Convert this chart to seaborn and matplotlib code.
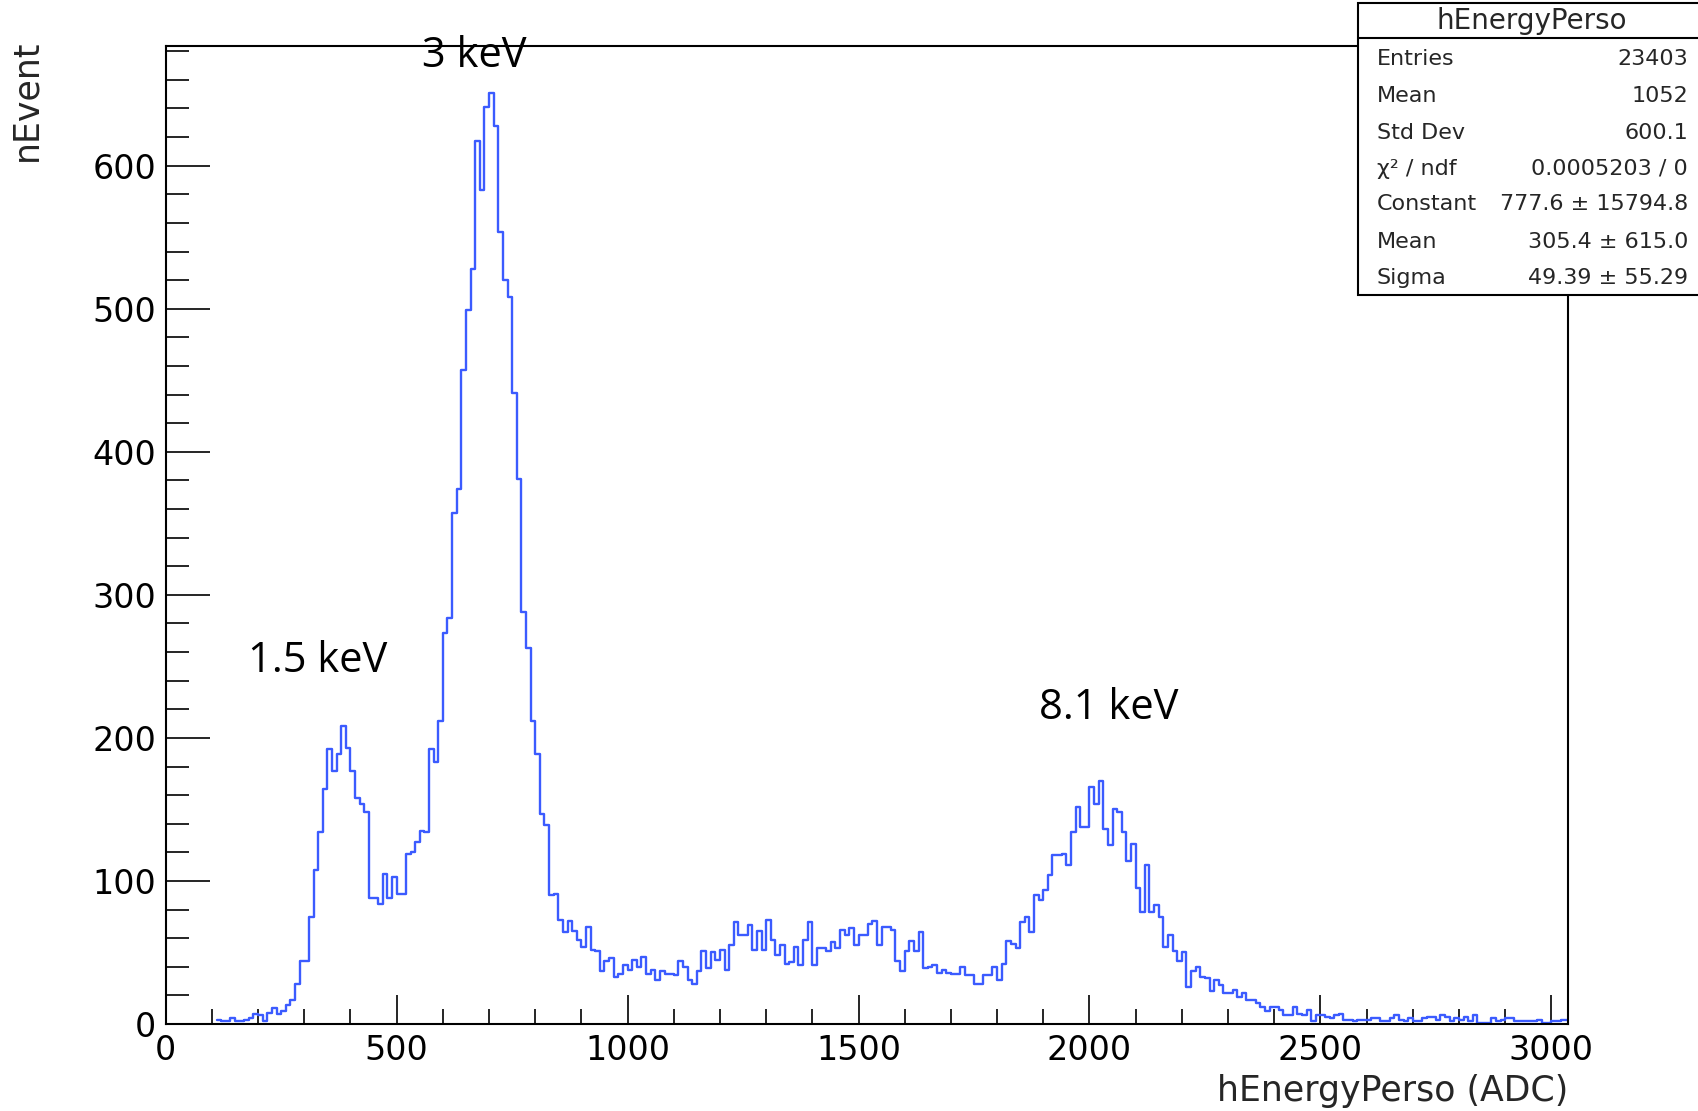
import numpy as np
import pandas as pd
import seaborn as sns
import matplotlib.pyplot as plt
from matplotlib.ticker import MultipleLocator
from matplotlib.patches import Rectangle
from matplotlib.lines import Line2D

# histogram: 10 ADC wide bins, first bin starts at 110
bin_width = 10
bin_first = 110
counts = [
    3, 2, 2, 4, 2, 2, 3, 4, 7, 6,                 # 110-200
    2, 8, 11, 7, 9, 13, 17, 28, 44, 44,           # 210-300
    75, 108, 134, 164, 192, 177, 189, 208, 193, 177,   # 310-400
    158, 154, 148, 88, 88, 84, 105, 88, 103, 91,  # 410-500
    91, 119, 120, 127, 135, 134, 192, 183, 212, 273,   # 510-600
    284, 357, 374, 457, 499, 528, 617, 583, 641, 651,  # 610-700
    628, 554, 520, 508, 441, 381, 288, 263, 212, 189,  # 710-800
    147, 139, 90, 91, 73, 64, 72, 65, 59, 54,     # 810-900
    68, 52, 51, 37, 44, 46, 33, 35, 41, 38,       # 910-1000
    45, 40, 47, 35, 38, 31, 37, 35, 35, 34,       # 1010-1100
    44, 40, 31, 28, 37, 51, 39, 50, 45, 52,       # 1110-1200
    38, 55, 71, 62, 62, 69, 52, 65, 52, 73,       # 1210-1300
    59, 48, 55, 42, 43, 54, 41, 59, 71, 41,       # 1310-1400
    53, 53, 51, 57, 53, 66, 62, 67, 55, 62,       # 1410-1500
    62, 70, 72, 55, 68, 68, 66, 44, 37, 51,       # 1510-1600
    58, 51, 64, 39, 40, 41, 36, 38, 36, 35,       # 1610-1700
    35, 40, 34, 34, 28, 28, 34, 34, 40, 31,       # 1710-1800
    42, 58, 56, 53, 71, 75, 64, 90, 87, 94,       # 1810-1900
    104, 118, 118, 119, 111, 134, 152, 138, 138, 166,  # 1910-2000
    154, 170, 136, 125, 150, 148, 134, 114, 126, 95,   # 2010-2100
    78, 111, 78, 83, 75, 54, 62, 51, 44, 50,      # 2110-2200
    26, 37, 40, 33, 32, 23, 31, 27, 22, 22,       # 2210-2300
    24, 19, 22, 17, 17, 15, 12, 9, 12, 12,        # 2310-2400
    10, 6, 6, 12, 7, 6, 10, 2, 6, 6,              # 2410-2500
    5, 4, 6, 7, 3, 3, 2, 3, 3, 3,                 # 2510-2600
    4, 4, 2, 2, 4, 6, 3, 2, 4, 2,                 # 2610-2700
    2, 4, 5, 5, 3, 6, 5, 2, 4, 3,                 # 2710-2800
    5, 2, 6, 1, 1, 1, 4, 2, 3, 4,                 # 2810-2900
    4, 2, 2, 2, 2, 2, 3, 1, 1, 2,                 # 2910-3000
    2, 3, 3,                                      # 3010-3030
]

stat_names = ["Entries", "Mean", "Std Dev", "χ² / ndf", "Constant", "Mean", "Sigma"]
stat_values = ["23403", "1052", "600.1", "0.0005203 / 0",
               "777.6 ± 15794.8", "305.4 ± 615.0", "49.39 ± 55.29"]

peak_labels = ["1.5 keV", "3 keV", "8.1 keV"]
peak_x = [330, 669, 2041]
peak_y = [246, 669, 213]

bin_last = bin_first + bin_width * len(counts)
centers = np.arange(bin_first, bin_last, bin_width) + bin_width / 2
df = pd.DataFrame({"adc": centers, "n": counts})

sns.set_theme(style="white")
plt.rcParams["font.family"] = ["DejaVu Sans"]

fig = plt.figure(figsize=(16.98, 11.11), dpi=100)
ax = fig.add_axes([0.0976, 0.0783, 0.8258, 0.8807])

sns.histplot(data=df, x="adc", weights="n", binwidth=bin_width,
             binrange=(bin_first, bin_last), element="step",
             fill=False, color="#3b5bff", linewidth=1.7, ax=ax)

ax.set_xlim(0, 3036)
ax.set_ylim(0, 684)
ax.xaxis.set_major_locator(MultipleLocator(500))
ax.xaxis.set_minor_locator(MultipleLocator(100))
ax.yaxis.set_major_locator(MultipleLocator(100))
ax.yaxis.set_minor_locator(MultipleLocator(20))
ax.tick_params(which="both", direction="in", colors="black", width=1.2,
               bottom=True, left=True, top=False, right=False, labelsize=24)
ax.tick_params(axis="x", which="major", length=21, pad=7)
ax.tick_params(axis="x", which="minor", length=11)
ax.tick_params(axis="y", which="major", length=32, pad=7)
ax.tick_params(axis="y", which="minor", length=16.5)
for s in ax.spines.values():
    s.set_visible(True)
    s.set_color("black")
    s.set_linewidth(1.5)

ax.set_xlabel("hEnergyPerso (ADC)", fontsize=25, loc="right")
ax.xaxis.set_label_coords(1.0, -0.051)
ax.set_ylabel("nEvent", fontsize=25, loc="top")
ax.yaxis.set_label_coords(-0.087, 1.006)

for lab, x, y in zip(peak_labels, peak_x, peak_y):
    ax.text(x, y, lab, ha="center", va="baseline", fontsize=30,
            family=["Open Sans", "DejaVu Sans"], color="black")

# stats box in the top right corner, drawn over the frame
box_l, box_b = 1358 / 1698, 1 - 295 / 1111
box_t = 1 - 2.7 / 1111
fig.add_artist(Rectangle((box_l, box_b), 1.01 - box_l, box_t - box_b,
                         transform=fig.transFigure, facecolor="white",
                         edgecolor="black", linewidth=1.5, zorder=5))
sep = 1 - 38 / 1111
fig.add_artist(Line2D([box_l, 1.0], [sep, sep], transform=fig.transFigure,
                      color="black", linewidth=1.5, zorder=6))
fig.text(1532 / 1698, 1 - 21 / 1111, "hEnergyPerso", ha="center", va="center",
         fontsize=20, zorder=7)
row_y = [59, 96, 133, 169, 204, 242, 278]
for name, val, yy in zip(stat_names, stat_values, row_y):
    fig.text(1377 / 1698, 1 - yy / 1111, name, ha="left", va="center",
             fontsize=16, zorder=7)
    fig.text(1688 / 1698, 1 - yy / 1111, val, ha="right", va="center",
             fontsize=16, zorder=7)

fig.savefig("out.png", dpi=100)
